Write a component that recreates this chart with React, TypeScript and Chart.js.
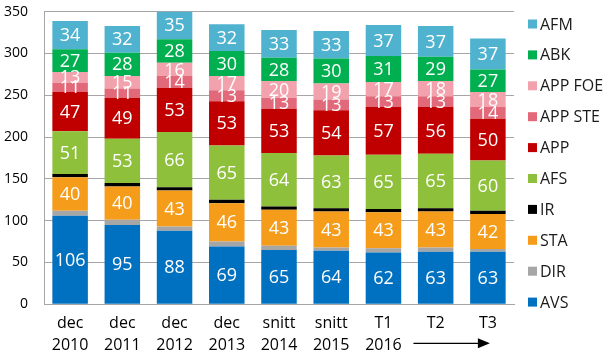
import React, { useEffect, useRef } from "react";
import { Chart, registerables } from "chart.js";

Chart.register(...registerables);

const categories: string[][] = [
  ["dec", "2010"], ["dec", "2011"], ["dec", "2012"], ["dec", "2013"],
  ["snitt", "2014"], ["snitt", "2015"], ["T1", "2016"], ["T2", ""], ["T3", ""],
];

const AVS = [106, 95, 88, 69, 65, 64, 62, 63, 63];
const DIR = [6, 6, 5, 6, 5, 4, 5, 5, 3];
const STA = [40, 40, 43, 46, 43, 43, 43, 43, 42];
const IR = [4, 4, 4, 4, 4, 4, 4, 4, 4];
const AFS = [51, 53, 66, 65, 64, 63, 65, 65, 60];
const APP = [47, 49, 53, 53, 53, 54, 57, 56, 50];
const APP_STE = [11, 11, 14, 13, 13, 13, 13, 13, 14];
const APP_FOE = [13, 15, 16, 17, 20, 19, 17, 18, 18];
const ABK = [27, 28, 28, 30, 28, 30, 31, 29, 27];
const AFM = [34, 32, 35, 32, 33, 33, 37, 37, 37];

const yTicks = [0, 50, 100, 150, 200, 250, 300, 350];

const FONT = "'Open Sans', sans-serif";

const series = [
  { label: "AVS", data: AVS, color: "#0070c0", showLabel: true },
  { label: "DIR", data: DIR, color: "#a6a6a6", showLabel: false },
  { label: "STA", data: STA, color: "#f59c1a", showLabel: true },
  { label: "IR", data: IR, color: "#000000", showLabel: false },
  { label: "AFS", data: AFS, color: "#8fc03c", showLabel: true },
  { label: "APP", data: APP, color: "#c00000", showLabel: true },
  { label: "APP STE", data: APP_STE, color: "#e2697a", showLabel: true },
  { label: "APP FOE", data: APP_FOE, color: "#f2a2ac", showLabel: true },
  { label: "ABK", data: ABK, color: "#00b050", showLabel: true },
  { label: "AFM", data: AFM, color: "#4fb3cf", showLabel: true },
];

const labelPlugin = {
  id: "segLabels",
  afterDatasetsDraw(chart: any) {
    const ctx = chart.ctx;
    ctx.save();
    ctx.font = `18px ${FONT}`;
    ctx.fillStyle = "#ffffff";
    ctx.textAlign = "center";
    ctx.textBaseline = "middle";
    chart.data.datasets.forEach((ds: any, i: number) => {
      if (!ds.showLabel) return;
      const meta = chart.getDatasetMeta(i);
      meta.data.forEach((el: any, j: number) => {
        const p = el.getProps(["x", "y", "base"], true);
        ctx.fillText(String(ds.data[j]), p.x, (p.y + p.base) / 2 + 1);
      });
    });
    ctx.restore();
  },
};

const legendPlugin = {
  id: "customLegend",
  afterDraw(chart: any) {
    const ctx = chart.ctx;
    const area = chart.chartArea;
    const ds = chart.data.datasets;
    const n = ds.length;
    const step = 30.9;
    const x0 = area.right + 14;
    const y0 = 24;
    ctx.save();
    ctx.font = `16px ${FONT}`;
    ctx.textBaseline = "middle";
    ctx.textAlign = "left";
    for (let k = 0; k < n; k++) {
      const d = ds[n - 1 - k];
      const y = y0 + k * step;
      ctx.fillStyle = d.backgroundColor;
      ctx.fillRect(x0, y - 4.5, 9, 9);
      ctx.fillStyle = "#1a1a1a";
      ctx.fillText(d.label, x0 + 12, y + 1);
    }
    ctx.restore();
  },
};

const arrowPlugin = {
  id: "arrow",
  afterDraw(chart: any) {
    const ctx = chart.ctx;
    const xs = chart.scales.x;
    const area = chart.chartArea;
    const x1 = xs.getPixelForValue(6) + 30;
    const x2 = xs.getPixelForValue(8) + 2;
    const y = area.bottom + 39;
    ctx.save();
    ctx.strokeStyle = "#000";
    ctx.fillStyle = "#000";
    ctx.lineWidth = 1.3;
    ctx.beginPath();
    ctx.moveTo(x1, y);
    ctx.lineTo(x2 - 10, y);
    ctx.stroke();
    ctx.beginPath();
    ctx.moveTo(x2, y);
    ctx.lineTo(x2 - 12, y - 5);
    ctx.lineTo(x2 - 12, y + 5);
    ctx.closePath();
    ctx.fill();
    ctx.restore();
  },
};

export default function App() {
  const ref = useRef<HTMLCanvasElement | null>(null);
  useEffect(() => {
    document.body.style.margin = "0";
    const canvas = ref.current;
    if (!canvas) return;
    const chart = new Chart(canvas, {
      type: "bar",
      data: {
        labels: categories,
        datasets: series.map((s) => ({
          label: s.label,
          data: s.data,
          backgroundColor: s.color,
          borderWidth: 0,
          barPercentage: 0.68,
          categoryPercentage: 1,
          showLabel: s.showLabel,
        })) as any,
      },
      options: {
        animation: false,
        responsive: false,
        maintainAspectRatio: false,
        layout: { padding: { left: 3, right: 94, top: 11.7, bottom: 0 } },
        plugins: {
          legend: { display: false },
          tooltip: { enabled: false },
        },
        scales: {
          x: {
            stacked: true,
            grid: { display: false, drawTicks: false },
            border: { display: true, color: "#a6a6a6", width: 1 },
            ticks: {
              color: "#000",
              font: { family: FONT, size: 16, lineHeight: 1.375 },
              padding: 8,
              maxRotation: 0,
              autoSkip: false,
            },
            afterFit: (axis: any) => {
              axis.height = 54.7;
              axis.paddingLeft = 0;
              axis.paddingRight = 0;
            },
          },
          y: {
            stacked: true,
            min: 0,
            max: 350,
            afterBuildTicks: (axis: any) => {
              axis.ticks = yTicks.map((v) => ({ value: v }));
            },
            grid: { color: "#a6a6a6", drawTicks: false, lineWidth: 1 },
            border: { display: true, color: "#a6a6a6", width: 1 },
            ticks: {
              color: "#000",
              font: { family: FONT, size: 14 },
              padding: 16,
            },
            afterFit: (axis: any) => {
              axis.width = 41;
              axis.paddingTop = 0;
              axis.paddingBottom = 0;
            },
          },
        },
      },
      plugins: [labelPlugin, legendPlugin, arrowPlugin],
    });
    return () => chart.destroy();
  }, []);
  return <canvas ref={ref} width={608} height={359} style={{ display: "block" }} />;
}
